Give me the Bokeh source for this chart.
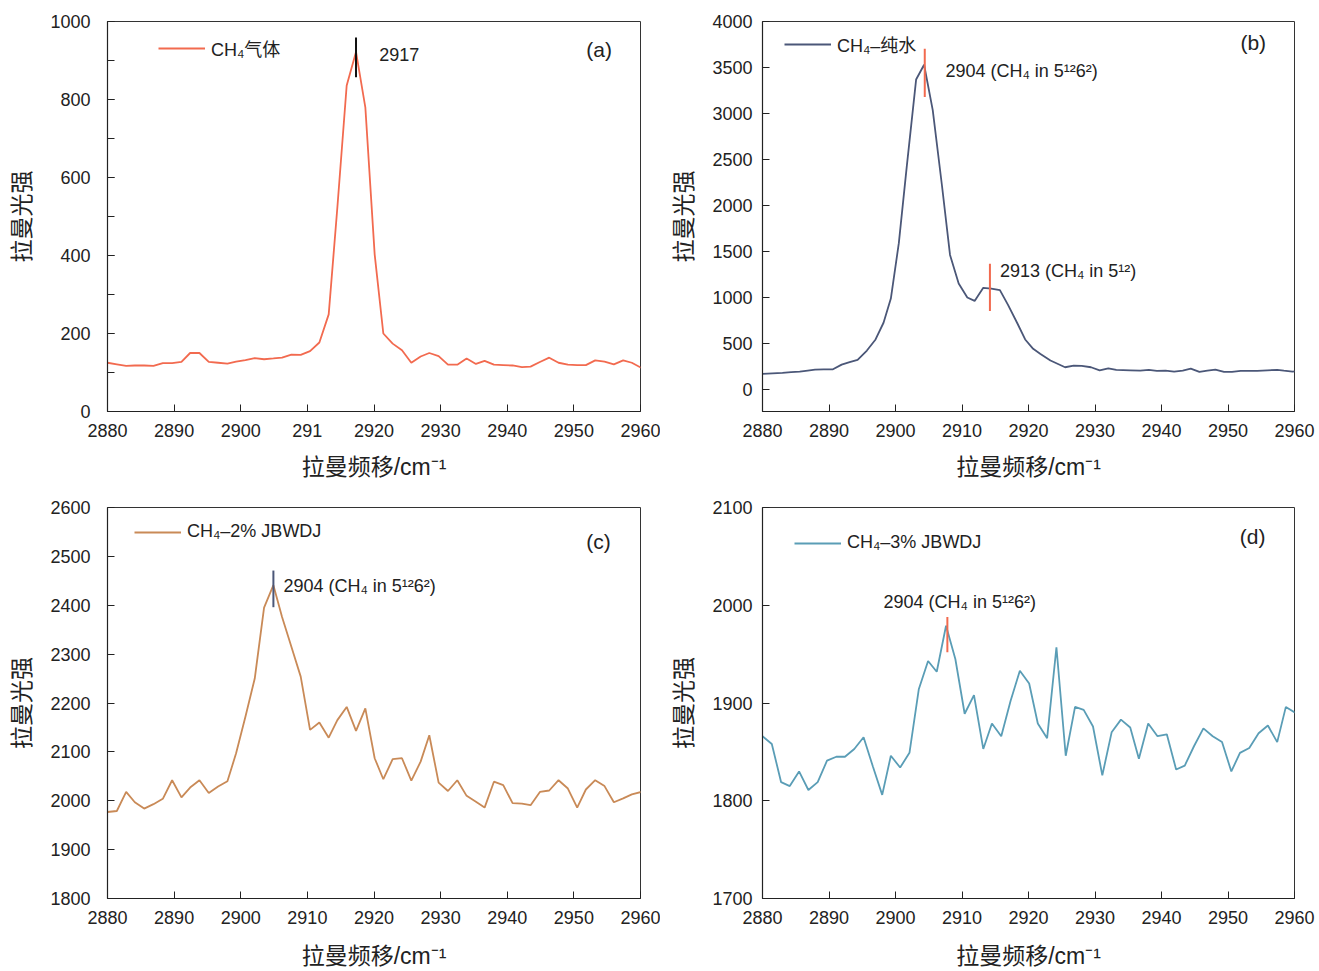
from bokeh.plotting import figure
from bokeh.models import Range1d, SingleIntervalTicker, Legend, LegendItem
from bokeh.layouts import column, row
from bokeh.embed import file_html
from bokeh.resources import INLINE
from bokeh.core.properties import value

# ---------------- data ----------------
wavenumber = [2880.0, 2881.4, 2882.8, 2884.1, 2885.5, 2886.9, 2888.3, 2889.7, 2891.1, 2892.4,
              2893.8, 2895.2, 2896.6, 2898.0, 2899.3, 2900.7, 2902.1, 2903.5, 2904.9, 2906.2,
              2907.6, 2909.0, 2910.4, 2911.8, 2913.2, 2914.5, 2915.9, 2917.3, 2918.7, 2920.1,
              2921.4, 2922.8, 2924.2, 2925.6, 2927.0, 2928.3, 2929.7, 2931.1, 2932.5, 2933.9,
              2935.3, 2936.6, 2938.0, 2939.4, 2940.8, 2942.2, 2943.5, 2944.9, 2946.3, 2947.7,
              2949.1, 2950.5, 2951.8, 2953.2, 2954.6, 2956.0, 2957.4, 2958.7, 2960.1]

ch4_gas = [125, 121, 117, 118, 118, 117, 124, 124, 127, 150,
           150, 127, 125, 123, 128, 132, 137, 134, 136, 138,
           146, 145, 155, 177, 249, 523, 836, 922, 780, 403,
           200, 174, 157, 125, 141, 150, 142, 120, 120, 136,
           122, 130, 120, 119, 118, 114, 115, 127, 138, 125,
           120, 119, 119, 131, 128, 121, 131, 125, 112]

wavenumber_b = [2880.0, 2881.5, 2883.0, 2884.3, 2885.6, 2886.8, 2887.9, 2889.2, 2890.6, 2891.9,
                2893.1, 2894.3, 2895.7, 2897.0, 2898.2, 2899.3, 2900.5, 2901.7, 2903.1, 2904.3,
                2905.6, 2907.0, 2908.2, 2909.5, 2910.8, 2911.9, 2913.2, 2914.4, 2915.7, 2916.9,
                2918.3, 2919.5, 2920.7, 2921.8, 2923.3, 2925.5, 2926.8, 2928.0, 2929.4, 2930.7,
                2932.0, 2933.2, 2935.3, 2936.8, 2938.1, 2939.3, 2940.6, 2941.9, 2943.2, 2944.4,
                2945.7, 2946.9, 2948.1, 2949.4, 2950.6, 2951.9, 2954.4, 2955.9, 2957.4, 2958.4,
                2959.7, 2960.9]
ch4_water = [168, 175, 181, 187, 193, 205, 215, 218, 219, 270,
             296, 321, 423, 543, 725, 988, 1590, 2428, 3369, 3530,
             3037, 2209, 1462, 1152, 999, 962, 1105, 1097, 1079, 922,
             722, 543, 441, 386, 314, 241, 259, 256, 241, 208,
             230, 212, 208, 204, 212, 201, 204, 194, 204, 226,
             190, 204, 215, 190, 190, 201, 201, 208, 212, 204,
             194, 204]

ch4_2pct = [1977, 1979, 2018, 1997, 1984, 1993, 2004, 2042, 2007, 2027,
            2042, 2016, 2029, 2040, 2097, 2172, 2250, 2395, 2441, 2376,
            2315, 2254, 2145, 2160, 2129, 2165, 2192, 2143, 2189, 2087,
            2044, 2085, 2087, 2041, 2080, 2134, 2037, 2020, 2042, 2010,
            1998, 1986, 2039, 2032, 1995, 1994, 1991, 2018, 2021, 2042,
            2025, 1986, 2023, 2042, 2030, 1997, 2005, 2013, 2018]

ch4_3pct = [1866, 1858, 1819, 1815, 1830, 1811, 1819, 1841, 1845, 1845,
            1853, 1865, 1835, 1806, 1846, 1834, 1849, 1914, 1943, 1932,
            1979, 1945, 1889, 1908, 1853, 1879, 1866, 1902, 1933, 1920,
            1879, 1864, 1957, 1846, 1896, 1893, 1876, 1826, 1870, 1883,
            1875, 1843, 1879, 1866, 1868, 1832, 1836, 1856, 1874, 1866,
            1860, 1830, 1849, 1854, 1869, 1877, 1860, 1896, 1890]

series_names = ["CH\u2084气体", "CH\u2084\u2013纯水", "CH\u2084\u20132% JBWDJ", "CH\u2084\u20133% JBWDJ"]
panel_tags = ["(a)", "(b)", "(c)", "(d)"]
x_tick_labels_a = {2910: "291"}

# peak markers: (x, y_low, y_high) and annotation texts
peak_a = [2917.3, 857, 959]
peak_b1 = [2904.4, 3180, 3705]
peak_b2 = [2914.2, 852, 1366]
peak_c = [2904.9, 2396, 2471]
peak_d = [2907.8, 1952, 1988]
label_a = "2917"
label_5126 = "2904 (CH\u2084 in 5\u00b9\u00b26\u00b2)"
label_512 = "2913 (CH\u2084 in 5\u00b9\u00b2)"

# ---------------- style ----------------
FONT = "'Liberation Sans', Arial, 'Noto Sans CJK SC', sans-serif"
TXT = "#222222"
RED = "#F26A4F"
NAVY = "#4B5778"
TAN = "#C98A57"
TEAL = "#5A9DB6"


def make_fig(w, h, left, right, top, bottom, yr, yint, yminor, ystand, xlab_stand):
    p = figure(width=w, height=h, x_range=Range1d(2880, 2960), y_range=Range1d(*yr),
               output_backend="svg", toolbar_location=None,
               min_border_left=left, min_border_right=right,
               min_border_top=top, min_border_bottom=bottom)
    p.grid.visible = False
    p.outline_line_color = "#333333"
    p.outline_line_width = 1
    p.background_fill_color = "white"
    p.border_fill_color = "white"
    p.xaxis.ticker = SingleIntervalTicker(interval=10, num_minor_ticks=0)
    p.yaxis.ticker = SingleIntervalTicker(interval=yint, num_minor_ticks=yminor)
    for ax in (p.xaxis[0], p.yaxis[0]):
        ax.axis_line_color = "#222222"
        ax.axis_line_width = 1.2
        ax.major_tick_in = 7
        ax.major_tick_out = 0
        ax.major_tick_line_color = "#222222"
        ax.minor_tick_in = 7
        ax.minor_tick_out = 0
        ax.minor_tick_line_color = "#222222" if (ax is p.yaxis[0] and yminor) else None
        ax.major_label_text_font = FONT
        ax.major_label_text_font_size = "18px"
        ax.major_label_text_color = TXT
        ax.axis_label_text_font = FONT
        ax.axis_label_text_font_size = "23px"
        ax.axis_label_text_font_style = "normal"
        ax.axis_label_text_color = TXT
    p.xaxis.axis_label = "拉曼频移/cm\u207b\u00b9"
    p.yaxis.axis_label = "拉曼光强"
    p.xaxis.major_label_standoff = 12
    p.xaxis.axis_label_standoff = xlab_stand
    p.yaxis.major_label_standoff = ystand
    p.yaxis.axis_label_standoff = 12
    return p


def add_legend(p, renderer, label, x, y):
    leg = Legend(items=[LegendItem(label=label, renderers=[renderer])], location=(x, y),
                 glyph_width=47, glyph_height=20, label_standoff=6, padding=0, margin=0,
                 border_line_alpha=0, background_fill_alpha=0,
                 label_text_font=FONT, label_text_font_size="18px", label_text_color=TXT)
    p.add_layout(leg)


def add_text(p, x, y, t, size="18px", align="left"):
    p.text(x=[x], y=[y], text=[t], text_font=value(FONT), text_font_size=size,
           text_color=TXT, text_align=align, text_baseline="middle")


# (a)
pa = make_fig(660, 490, 107, 20, 21, 79, (0, 1000), 200, 2, 17, 14)
pa.xaxis.major_label_overrides = x_tick_labels_a
ra = pa.line(wavenumber, ch4_gas, line_color=RED, line_width=1.8)
pa.segment(x0=[peak_a[0]], y0=[peak_a[1]], x1=[peak_a[0]], y1=[peak_a[2]], line_color="#111111", line_width=2)
add_text(pa, 2920.8, 916, label_a)
add_text(pa, 2953.8, 928, panel_tags[0], "21px", "center")
add_legend(pa, ra, series_names[0], 51, 350)

# (b)
pb = make_fig(659, 490, 102, 25, 21, 79, (-240, 4000), 500, 0, 10, 14)
rb = pb.line(wavenumber_b, ch4_water, line_color=NAVY, line_width=1.8)
pb.segment(x0=[peak_b1[0], peak_b2[0]], y0=[peak_b1[1], peak_b2[1]],
           x1=[peak_b1[0], peak_b2[0]], y1=[peak_b1[2], peak_b2[2]], line_color=RED, line_width=2)
add_text(pb, 2907.5, 3464, label_5126)
add_text(pb, 2915.7, 1290, label_512)
add_text(pb, 2953.8, 3770, panel_tags[1], "21px", "center")
add_legend(pb, rb, series_names[1], 22, 354)

# (c)
pc = make_fig(660, 481, 107, 20, 17, 72, (1800, 2600), 100, 0, 17, 16)
rc = pc.line(wavenumber, ch4_2pct, line_color=TAN, line_width=1.8)
pc.segment(x0=[peak_c[0]], y0=[peak_c[1]], x1=[peak_c[0]], y1=[peak_c[2]], line_color=NAVY, line_width=2)
add_text(pc, 2906.4, 2439, label_5126)
add_text(pc, 2953.7, 2531, panel_tags[2], "21px", "center")
add_legend(pc, rc, series_names[2], 27, 356)

# (d)
pd_ = make_fig(659, 481, 102, 25, 17, 72, (1700, 2100), 100, 0, 10, 16)
rd = pd_.line(wavenumber, ch4_3pct, line_color=TEAL, line_width=1.8)
pd_.segment(x0=[peak_d[0]], y0=[peak_d[1]], x1=[peak_d[0]], y1=[peak_d[2]], line_color=RED, line_width=2)
add_text(pd_, 2898.2, 2003, label_5126)
add_text(pd_, 2953.7, 2070, panel_tags[3], "21px", "center")
add_legend(pd_, rd, series_names[3], 32, 345)

layout = column(row(pa, pb), row(pc, pd_))
open("out.html", "w").write(file_html(layout, INLINE))
